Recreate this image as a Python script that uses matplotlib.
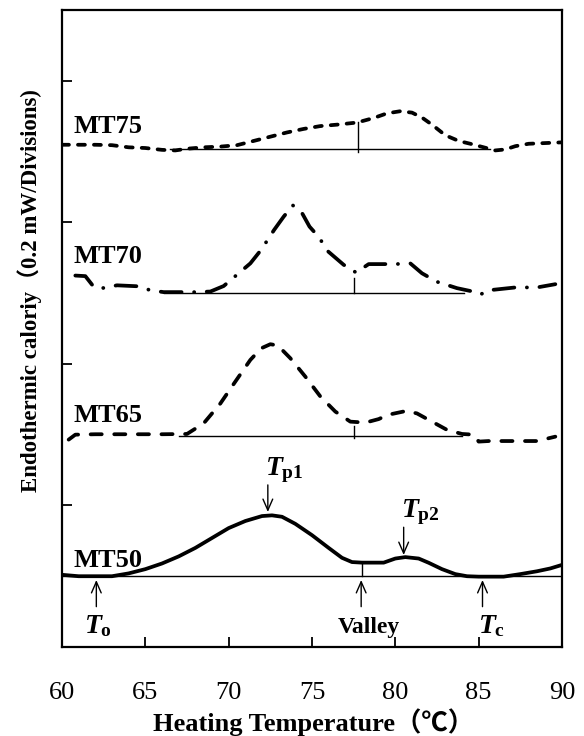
import numpy as np
import matplotlib
matplotlib.use('Agg')
from matplotlib import pyplot as plt

# DSC curves (temperature in degC, signal in divisions)
t50 = [60.0, 61.0, 62.0, 63.0, 64.0, 65.0, 66.0, 67.0, 68.0, 69.0, 70.0, 71.0, 72.0, 72.6,
       73.2, 74.0, 75.0, 76.0, 76.8, 77.4, 78.0, 79.3, 80.0, 80.6, 81.4, 82.0, 82.8, 83.6,
       84.3, 85.0, 86.5, 87.5, 88.5, 89.3, 90.0]
y50 = [0.51, 0.50, 0.50, 0.50, 0.52, 0.55, 0.59, 0.64, 0.70, 0.77, 0.84, 0.89, 0.925, 0.93,
       0.92, 0.87, 0.79, 0.70, 0.63, 0.60, 0.596, 0.596, 0.625, 0.635, 0.625, 0.595, 0.55, 0.515,
       0.50, 0.497, 0.497, 0.515, 0.535, 0.555, 0.58]

t65 = [60.4, 60.8, 62.0, 64.0, 66.0, 67.5, 68.5, 69.5, 70.4, 71.3, 71.95, 72.5, 72.95, 73.7,
       74.6, 75.5, 76.4, 77.3, 78.2, 79.0, 79.55, 80.67, 81.3, 82.2, 83.1, 84.0, 84.7, 85.0,
       85.6, 86.5, 88.5, 89.6]
y65 = [1.465, 1.50, 1.503, 1.503, 1.503, 1.505, 1.58, 1.72, 1.875, 2.028, 2.11, 2.139, 2.13, 2.04,
       1.91, 1.77, 1.663, 1.592, 1.585, 1.61, 1.64, 1.668, 1.65, 1.592, 1.534, 1.505, 1.50, 1.451,
       1.455, 1.455, 1.455, 1.486]

t70 = [60.8, 61.4, 61.8, 62.2, 63.3, 64.6, 65.3, 66.1, 67.9, 68.9, 69.7, 70.6, 71.3, 71.95,
       72.73, 73.3, 73.85, 74.4, 74.85, 75.4, 75.97, 76.9, 77.65, 78.4, 80.0, 80.9, 81.6, 82.5,
       83.7, 84.5, 85.1, 85.6, 86.4, 87.2, 88.5, 89.6]
y70 = [2.624, 2.62, 2.56, 2.53, 2.555, 2.548, 2.52, 2.507, 2.507, 2.511, 2.55, 2.64, 2.71, 2.806,
       2.947, 3.04, 3.12, 3.066, 2.97, 2.897, 2.794, 2.70, 2.645, 2.705, 2.705, 2.71, 2.64, 2.58,
       2.535, 2.515, 2.49, 2.52, 2.53, 2.54, 2.54, 2.563]

t75 = [60.0, 61.0, 62.0, 63.0, 64.0, 65.0, 66.0, 66.8, 67.5, 68.5, 69.5, 70.5, 71.5, 72.5,
       73.5, 74.5, 75.5, 76.5, 77.7, 78.7, 79.5, 80.3, 81.0, 81.6, 82.2, 83.0, 83.8, 84.5,
       85.3, 86.0, 86.6, 87.2, 88.0, 89.0, 90.0]
y75 = [3.548, 3.548, 3.548, 3.545, 3.53, 3.525, 3.512, 3.508, 3.52, 3.53, 3.535, 3.545, 3.575, 3.605,
       3.635, 3.66, 3.68, 3.69, 3.705, 3.737, 3.77, 3.785, 3.775, 3.74, 3.69, 3.615, 3.575, 3.555,
       3.53, 3.508, 3.515, 3.538, 3.555, 3.56, 3.565]

names = ['MT50', 'MT65', 'MT70', 'MT75']
# baseline (start, end, level) and valley temperature for each curve
base_x0 = [60.0, 67.0, 66.1, 66.5]
base_x1 = [90.0, 84.0, 84.1, 85.7]
base_y = [0.50, 1.491, 2.50, 3.517]
valley_t = [78.0, 77.5, 77.5, 77.76]
valley_top = [0.596, 1.562, 2.605, 3.706]
valley_bot = [0.50, 1.475, 2.50, 3.50]
label_y = [0.568, 1.592, 2.712, 3.63]

xticks = [60, 65, 70, 75, 80, 85, 90]

plt.rcParams['font.family'] = ['Liberation Serif', 'Noto Sans CJK SC']
plt.rcParams['mathtext.fontset'] = 'custom'
plt.rcParams['mathtext.it'] = 'Liberation Serif:italic:bold'
plt.rcParams['mathtext.bf'] = 'Liberation Serif:bold'
plt.rcParams['mathtext.rm'] = 'Liberation Serif:bold'
plt.rcParams['lines.scale_dashes'] = False

fig = plt.figure(figsize=(5.84, 7.36), dpi=100)
ax = fig.add_axes([62/584, 1-647/736, 500/584, 637/736])

lw = 2.7
ax.plot(t50, y50, '-', color='black', lw=lw, solid_capstyle='round', solid_joinstyle='round')
ax.plot(t65, y65, color='black', lw=lw, linestyle=(0, (8, 9)), dash_capstyle='round')
ax.plot(t70, y70, color='black', lw=lw, linestyle=(0, (15, 9, 0.1, 9)), dash_capstyle='round')
ax.plot(t75, y75, color='black', lw=lw, linestyle=(0, (5, 6.5)), dash_capstyle='round')

for i in range(4):
    ax.plot([base_x0[i], base_x1[i]], [base_y[i], base_y[i]], color='black', lw=1.0)
    ax.plot([valley_t[i], valley_t[i]], [valley_bot[i], valley_top[i]], color='black', lw=1.0)
    ax.text(60.66, label_y[i], names[i], fontsize=19, fontweight='bold', va='baseline', ha='left')

# characteristic temperatures of MT50
arrow = dict(arrowstyle='->,head_length=0.8,head_width=0.35', lw=1.0, color='black',
             shrinkA=0, shrinkB=0)
ax.annotate('', xy=(72.35, 0.954), xytext=(72.35, 1.145), arrowprops=arrow)
ax.annotate('', xy=(80.5, 0.65), xytext=(80.5, 0.846), arrowprops=arrow)
for t in [62.06, 77.95, 85.23]:
    ax.annotate('', xy=(t, 0.473), xytext=(t, 0.285), arrowprops=arrow)

ax.text(72.15, 1.216, r'$T_{\mathbf{p1}}$', fontsize=20, va='baseline', ha='left')
ax.text(80.34, 0.921, r'$T_{\mathbf{p2}}$', fontsize=20, va='baseline', ha='left')
ax.text(61.3, 0.101, r'$T_{\mathbf{o}}$', fontsize=20, va='baseline', ha='left')
ax.text(84.94, 0.096, r'$T_{\mathbf{c}}$', fontsize=20, va='baseline', ha='left')
ax.text(78.39, 0.101, 'Valley', fontsize=17, fontweight='bold', va='baseline', ha='center')

ax.set_xlim(60, 90)
ax.set_ylim(0, 4.5)
ax.set_xticks(xticks)
ax.set_xticklabels([str(v) for v in xticks], fontsize=19)
ax.set_yticks([1, 2, 3, 4])
ax.set_yticklabels([])
ax.tick_params(direction='in', length=7, width=1.3, pad=25)
for s in ax.spines.values():
    s.set_linewidth(1.6)

fig.text(314/584, 1-722/736, 'Heating Temperature（℃）', fontsize=19, fontweight='bold',
         ha='center', va='center')
fig.text(30/584, 1-291/736, 'Endothermic caloriy（0.2 mW/Divisions)', rotation=90,
         fontsize=16.5, fontweight='bold', ha='center', va='center')

plt.savefig('out.png', dpi=100)
